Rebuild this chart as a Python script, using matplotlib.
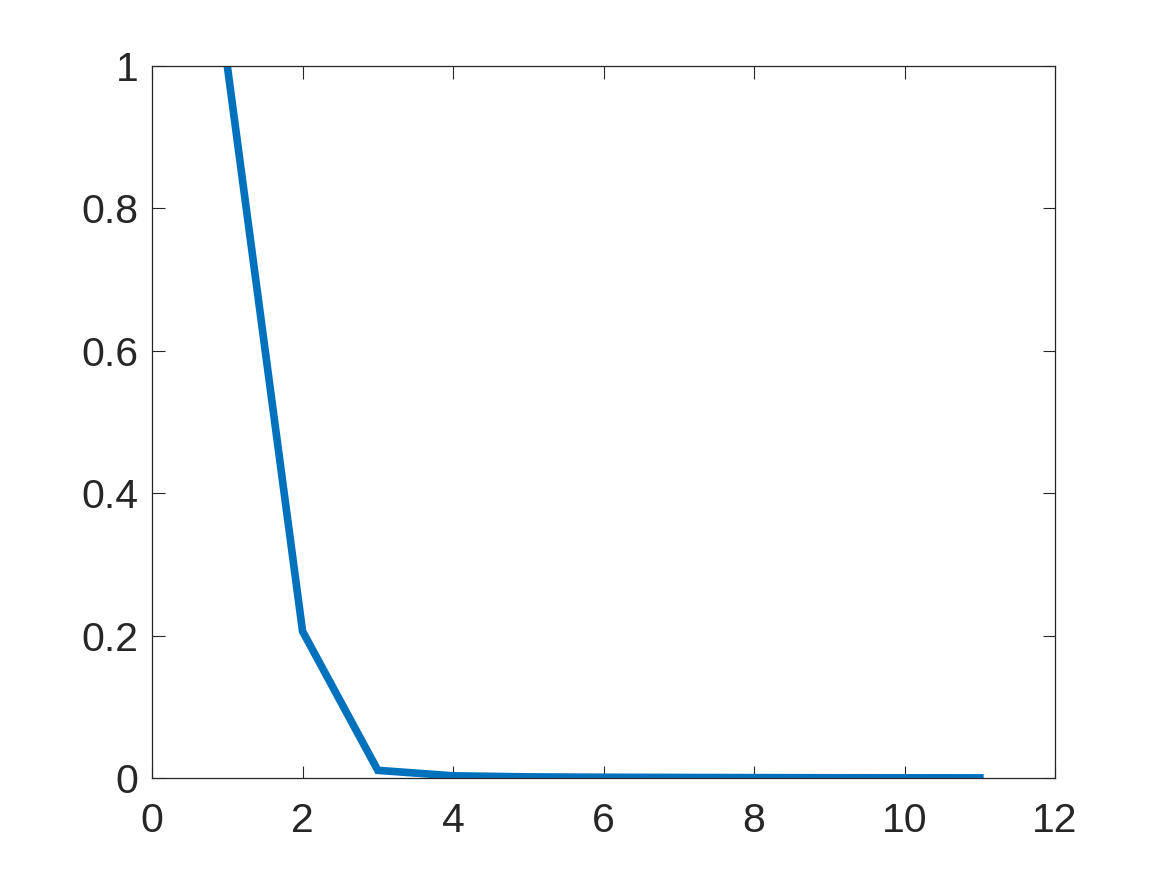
import numpy as np
import matplotlib
matplotlib.use("Agg")
import matplotlib.pyplot as plt

# values
iters = [1, 2, 3, 4, 5, 6, 7, 8, 9, 10, 11]
vals = [1.0, 0.206, 0.0107, 0.003, 0.0015, 0.001, 0.0007, 0.0005, 0.0003, 0.0002, 0.0001]
xticks = [0, 2, 4, 6, 8, 10, 12]
yticks = [0, 0.2, 0.4, 0.6, 0.8, 1]
ylabels = ["0", "0.2", "0.4", "0.6", "0.8", "1"]

plt.rcParams['font.family'] = ['Liberation Sans', 'DejaVu Sans']

fig = plt.figure(figsize=(11.67, 8.75), dpi=100)
ax = fig.add_axes([0.1303, 0.1109, 0.7738, 0.8137])
ax.plot(iters, vals, color='#0072BD', linewidth=5.5, solid_joinstyle='miter')
ax.set_xlim(0, 12)
ax.set_ylim(0, 1)
ax.set_xticks(xticks)
ax.set_yticks(yticks)
ax.set_yticklabels(ylabels)
ax.tick_params(direction='in', length=9, width=0.8, colors='#262626',
               labelsize=29.5, top=True, right=True, pad=10)
ax.tick_params(axis='x', pad=17)
for s in ax.spines.values():
    s.set_color('#262626')
    s.set_linewidth(0.9)

fig.savefig('out.png', dpi=100)
